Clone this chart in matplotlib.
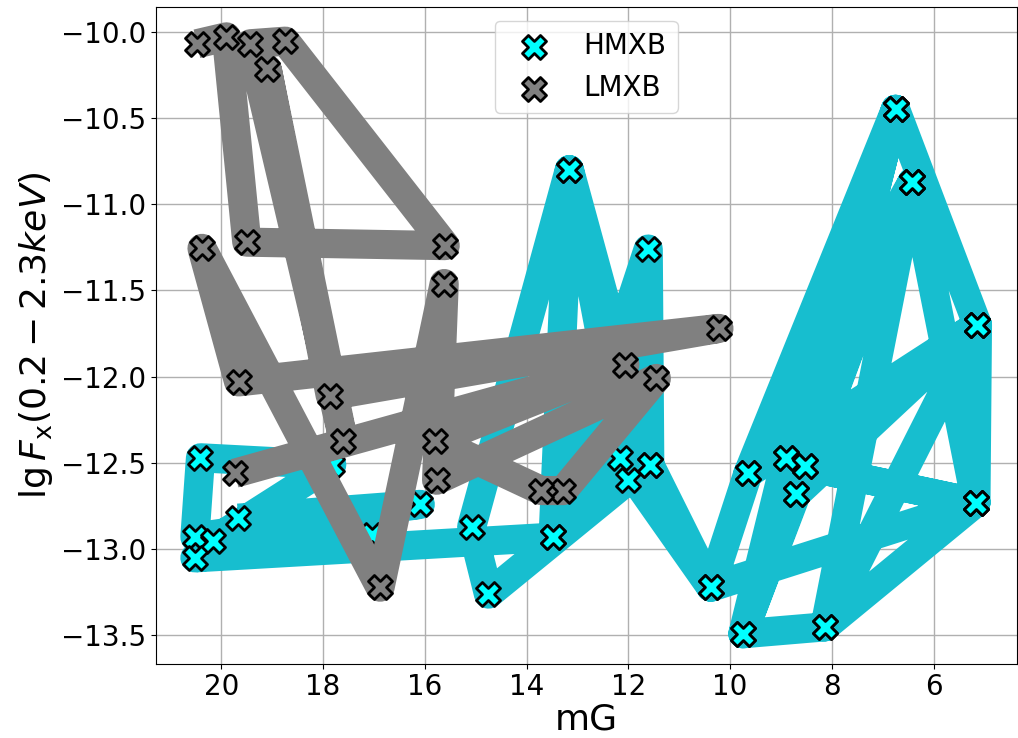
import matplotlib
matplotlib.use("Agg")
import matplotlib.pyplot as plt

# HMXB observations, in the order they were joined
hmxb_mg = [19.67, 16.09, 20.52, 20.41, 17.83, 20.17, 17.04, 20.52, 13.48, 11.61,
           11.58, 13.16, 15.08, 14.75, 12.01, 13.16, 13.48, 12.17, 10.38, 9.65,
           6.75, 5.14, 5.17, 8.14, 9.75, 8.70, 6.42, 5.17, 8.52, 6.75,
           8.90, 5.14, 8.14, 6.42, 9.75, 8.90, 6.42, 9.65, 5.14, 8.70,
           6.75, 8.52, 5.17, 10.38, 11.58]
hmxb_fx = [-12.82, -12.74, -12.93, -12.47, -12.51, -12.95, -12.92, -13.05, -12.93, -11.26,
           -12.51, -10.80, -12.87, -13.26, -12.60, -10.80, -12.93, -12.47, -13.22, -12.56,
           -10.45, -11.70, -12.73, -13.45, -13.49, -12.68, -10.87, -12.73, -12.52, -10.45,
           -12.47, -11.70, -13.45, -10.87, -13.49, -12.47, -10.87, -12.56, -11.70, -12.68,
           -10.45, -12.52, -12.73, -13.22, -12.51]

# LMXB observations, in the order they were joined
lmxb_mg = [20.48, 19.90, 19.50, 15.60, 18.74, 19.43, 17.60, 19.10, 17.86, 10.22,
           19.66, 20.38, 16.88, 15.62, 15.77, 11.45, 13.28, 13.71, 15.81, 12.07,
           19.74]
lmxb_fx = [-10.07, -10.03, -11.22, -11.24, -10.055, -10.07, -12.37, -10.215, -12.11, -11.72,
           -12.03, -11.256, -13.22, -11.46, -12.60, -12.01, -12.66, -12.66, -12.37, -11.93,
           -12.56]

fig = plt.figure(figsize=(10.18, 7.38), dpi=100)
ax = fig.add_axes([0.153, 0.1008, 0.8456, 0.8897])

ax.plot(hmxb_mg, hmxb_fx, color='tab:cyan', lw=21, solid_capstyle='butt', zorder=2)
h1 = ax.scatter(hmxb_mg, hmxb_fx, marker='X', s=300, c='cyan', edgecolors='black',
                linewidths=2, zorder=3, label='HMXB')
ax.plot(lmxb_mg, lmxb_fx, color='gray', lw=21, solid_capstyle='butt', zorder=4)
h2 = ax.scatter(lmxb_mg, lmxb_fx, marker='X', s=300, c='gray', edgecolors='black',
                linewidths=2, zorder=5, label='LMXB')

ax.invert_xaxis()
ax.grid(True, color='#b0b0b0', lw=1)
ax.tick_params(labelsize=20)
ax.set_xlabel('mG', fontsize=26, labelpad=1)
ax.set_ylabel(r'$\lg F_{\rm x}(0.2-2.3keV)$', fontsize=26)
ax.legend(handles=[h1, h2], loc='upper center', fontsize=20)

fig.savefig('out.png', dpi=100)
